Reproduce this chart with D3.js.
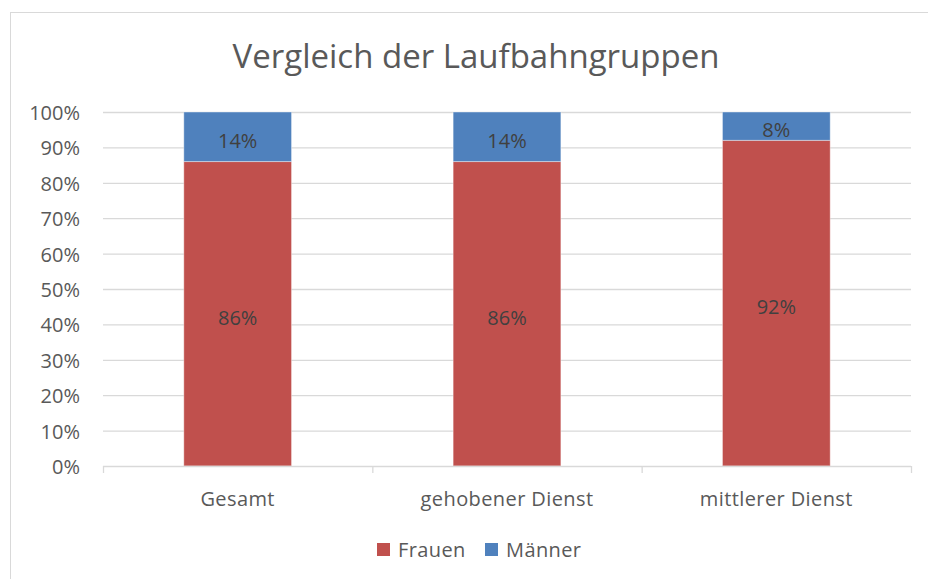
<!DOCTYPE html>
<html><head><meta charset="utf-8">
<script src="https://cdn.jsdelivr.net/npm/d3@7"></script>
<style>body{margin:0;background:#fff}svg{display:block}</style>
</head><body>
<svg id="c" width="928" height="579"></svg>
<script>
const categories = ["Gesamt", "gehobener Dienst", "mittlerer Dienst"];
const frauen = [86, 86, 92];
const maenner = [14, 14, 8];
const seriesNames = ["Frauen", "Männer"];
const colors = ["#C0504D", "#4F81BD"];
const yTicks = [0,10,20,30,40,50,60,70,80,90,100];
const title = "Vergleich der Laufbahngruppen";

(function(){
const font = "'Open Sans', 'Liberation Sans', sans-serif";
const txt = "#595959";
const svg = d3.select("#c");

svg.append("rect").attr("x",10.5).attr("y",12.5).attr("width",940).attr("height",600)
  .attr("fill","#fff").attr("stroke","#d9d9d9").attr("stroke-width",1);

const pL = 103, pR = 911, pT = 112, pB = 466;
const x = d3.scaleBand().domain(categories).range([pL,pR]).paddingInner(0.6).paddingOuter(0.3);
const xb = d3.scaleBand().domain(categories).range([pL,pR]);
const y = d3.scaleLinear().domain([0,100]).range([pB,pT]);

svg.append("text").attr("x",476).attr("y",68).attr("text-anchor","middle")
  .attr("font-family",font).attr("font-size",33).attr("fill",txt).text(title);

svg.append("g").selectAll("line").data(yTicks.slice(1)).join("line")
  .attr("x1",pL).attr("x2",pR).attr("y1",d=>y(d)+0.5).attr("y2",d=>y(d)+0.5)
  .attr("stroke","#d9d9d9").attr("stroke-width",1.3);

svg.append("g").selectAll("text").data(yTicks).join("text")
  .attr("x",80).attr("y",d=>y(d)+1).attr("dy","0.35em").attr("text-anchor","end")
  .attr("font-family",font).attr("font-size",20).attr("fill",txt).text(d=>d+"%");

const stackData = categories.map((c,i)=>({cat:c, Frauen:frauen[i], "Männer":maenner[i]}));
const stack = d3.stack().keys(seriesNames)(stackData);

const g = svg.append("g");
stack.forEach((s,si)=>{
  g.selectAll(null).data(s).join("rect")
    .attr("x",d=>x(d.data.cat)).attr("width",x.bandwidth())
    .attr("y",d=>y(d[1])).attr("height",d=>y(d[0])-y(d[1]))
    .attr("fill",colors[si]).attr("stroke","#ffffff").attr("stroke-opacity",0.4).attr("stroke-width",1);
  g.selectAll(null).data(s).join("text")
    .attr("x",d=>x(d.data.cat)+x.bandwidth()/2).attr("y",d=>(y(d[0])+y(d[1]))/2+4)
    .attr("dy","0.35em").attr("text-anchor","middle")
    .attr("font-family",font).attr("font-size",20).attr("fill","#404040")
    .text(d=>(d[1]-d[0])+"%");
});

const ax = svg.append("g");
ax.append("line").attr("x1",pL).attr("x2",pR).attr("y1",pB+0.5).attr("y2",pB+0.5)
  .attr("stroke","#d9d9d9").attr("stroke-width",1.3);
const bounds = [pL].concat(categories.map(c=>xb(c)+xb.bandwidth()));
ax.selectAll(".tk").data(bounds).join("line")
  .attr("x1",d=>d+0.5).attr("x2",d=>d+0.5).attr("y1",pB).attr("y2",pB+7)
  .attr("stroke","#d9d9d9").attr("stroke-width",1.3);
ax.selectAll("text").data(categories).join("text")
  .attr("x",d=>xb(d)+xb.bandwidth()/2).attr("y",506).attr("text-anchor","middle")
  .attr("font-family",font).attr("font-size",20).attr("letter-spacing",0.4).attr("fill",txt).text(d=>d);

const leg = svg.append("g");
const legX = [377, 485];
seriesNames.forEach((n,i)=>{
  leg.append("rect").attr("x",legX[i]).attr("y",543).attr("width",13).attr("height",13).attr("fill",colors[i]);
  leg.append("text").attr("x",legX[i]+21).attr("y",550).attr("dy","0.35em")
    .attr("font-family",font).attr("font-size",20).attr("letter-spacing",0.4).attr("fill",txt).text(n);
});
})();
</script>
</body></html>
